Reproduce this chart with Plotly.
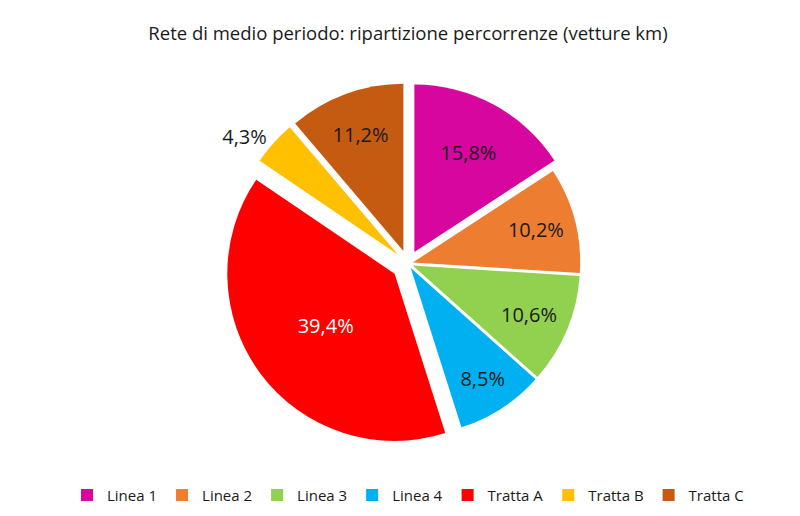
import plotly.graph_objects as go

labels = ["Linea 1", "Linea 2", "Linea 3", "Linea 4", "Tratta A", "Tratta B", "Tratta C"]
values = [15.8, 10.2, 10.6, 8.5, 39.4, 4.3, 11.2]
text_labels = ["15,8%", "10,2%", "10,6%", "8,5%", "39,4%", "4,3%", "11,2%"]
colors = ["#D6069E", "#ED7D31", "#92D050", "#00B0F0", "#FF0000", "#FFC000", "#C55A11"]
pulls = [0.08, 0.03, 0.03, 0.03, 0.1, 0.08, 0.08]
text_colors = ["#1a1a1a", "#1a1a1a", "#1a1a1a", "#1a1a1a", "#ffffff", "#1a1a1a", "#1a1a1a"]
text_pos = ["inside", "inside", "inside", "inside", "inside", "outside", "inside"]

fig = go.Figure(go.Pie(
    labels=labels,
    values=values,
    text=text_labels,
    textinfo="text",
    textposition=text_pos,
    insidetextorientation="horizontal",
    textfont=dict(size=20, color=text_colors, family="Open Sans"),
    outsidetextfont=dict(size=20, color="#1a1a1a", family="Open Sans"),
    marker=dict(colors=colors, line=dict(color="white", width=0)),
    pull=pulls,
    sort=False,
    direction="clockwise",
    rotation=0,
    automargin=False,
    domain=dict(x=[0.05, 0.95], y=[0.1, 0.95]),
))

fig.update_layout(
    width=800, height=516,
    paper_bgcolor="white",
    plot_bgcolor="white",
    margin=dict(l=20, r=20, t=50, b=30),
    font=dict(family="Open Sans", color="#1a1a1a"),
    title=dict(text="Rete di medio periodo: ripartizione percorrenze (vetture km)",
               x=0.5, xanchor="center", y=0.95, yanchor="middle",
               font=dict(size=18.5, color="#1a1a1a")),
    legend=dict(orientation="h", x=0.5, xanchor="center", y=-0.01, yanchor="middle",
                font=dict(size=15), traceorder="normal", itemwidth=30),
)

fig.write_html("out.html")
